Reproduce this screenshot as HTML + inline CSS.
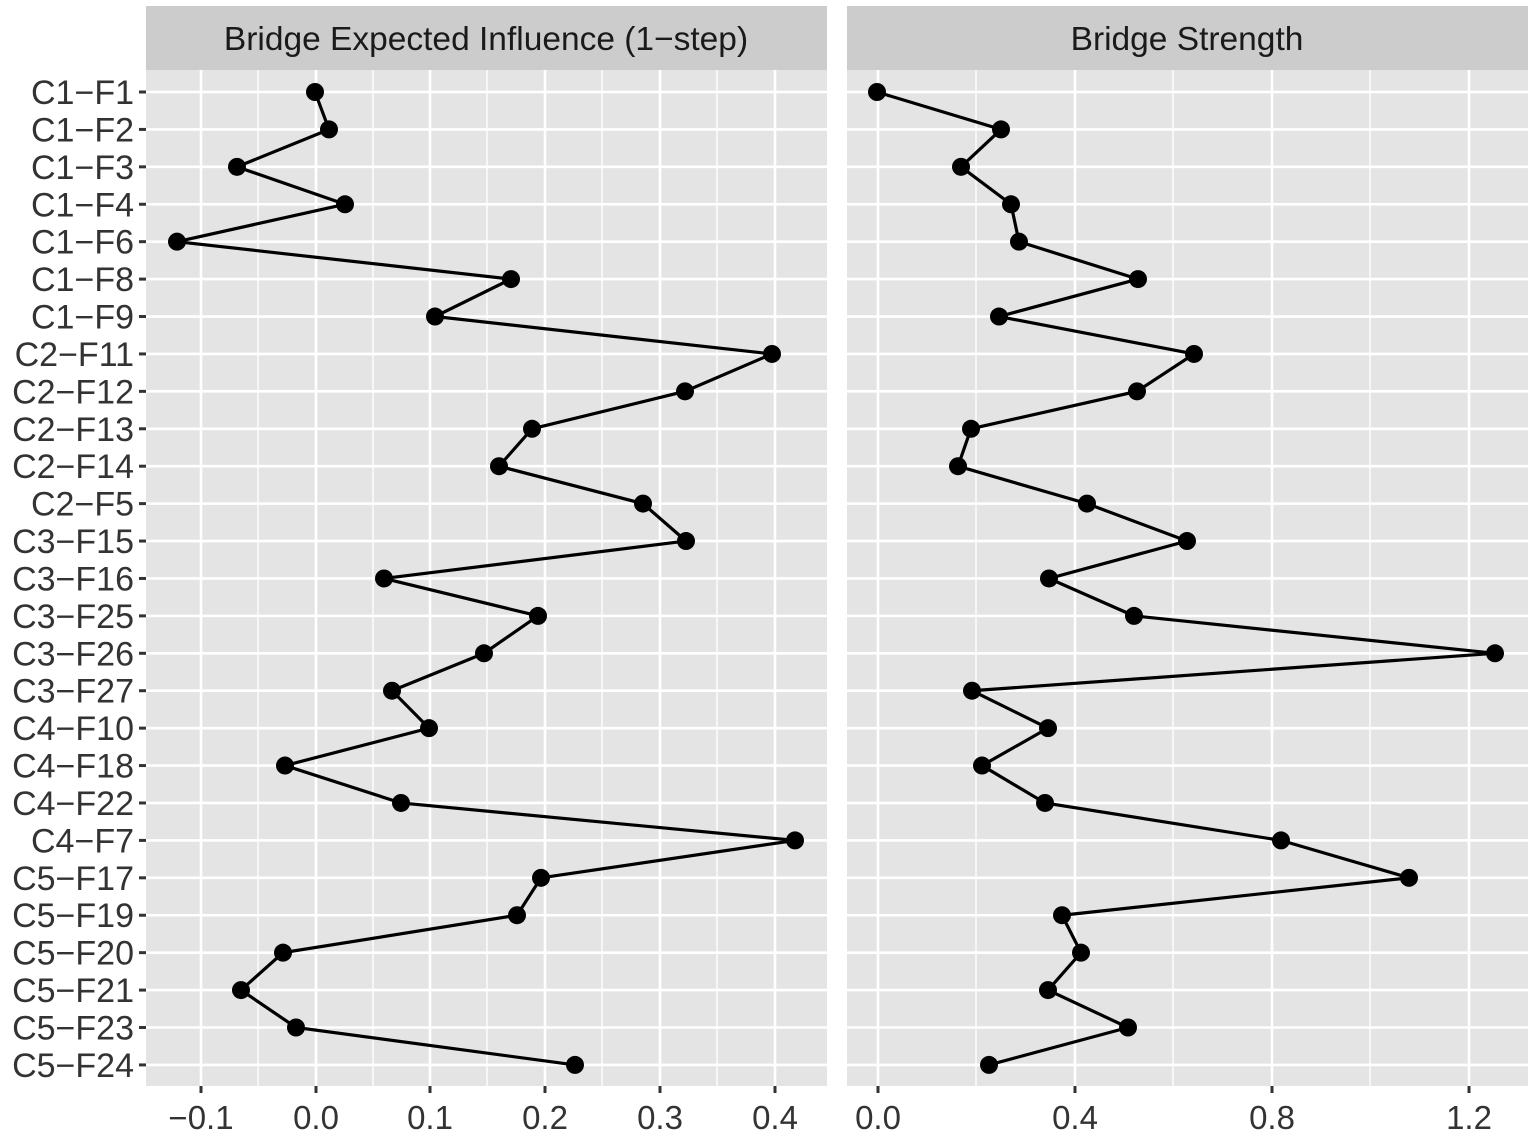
<!DOCTYPE html>
<html><head><meta charset="utf-8"><style>body{margin:0;background:#fff}svg{display:block}</style></head><body>
<svg width="1535" height="1137" xmlns="http://www.w3.org/2000/svg" font-family="Liberation Sans, sans-serif">
<rect width="1535" height="1137" fill="#fff"/>
<rect x="146" y="6" width="681" height="64" fill="#cccccc"/>
<rect x="847" y="6" width="681" height="64" fill="#cccccc"/>
<text x="486" y="50" font-size="33.5" text-anchor="middle" fill="#1a1a1a">Bridge Expected Influence (1−step)</text>
<text x="1187" y="50" font-size="33.5" text-anchor="middle" fill="#1a1a1a">Bridge Strength</text>
<rect x="146" y="70" width="681" height="1016" fill="#e4e4e4"/>
<rect x="847" y="70" width="681" height="1016" fill="#e4e4e4"/>
<g stroke="#fff" stroke-width="1.3">
<line x1="258" y1="70" x2="258" y2="1086"/><line x1="373" y1="70" x2="373" y2="1086"/><line x1="487" y1="70" x2="487" y2="1086"/><line x1="602" y1="70" x2="602" y2="1086"/><line x1="717" y1="70" x2="717" y2="1086"/>
<line x1="976" y1="70" x2="976" y2="1086"/><line x1="1173" y1="70" x2="1173" y2="1086"/><line x1="1370" y1="70" x2="1370" y2="1086"/>
</g>
<g stroke="#fff" stroke-width="2.6">
<line x1="201" y1="70" x2="201" y2="1086"/><line x1="316" y1="70" x2="316" y2="1086"/><line x1="430" y1="70" x2="430" y2="1086"/><line x1="545" y1="70" x2="545" y2="1086"/><line x1="660" y1="70" x2="660" y2="1086"/><line x1="775" y1="70" x2="775" y2="1086"/>
<line x1="878" y1="70" x2="878" y2="1086"/><line x1="1075" y1="70" x2="1075" y2="1086"/><line x1="1272" y1="70" x2="1272" y2="1086"/><line x1="1469" y1="70" x2="1469" y2="1086"/>
</g>
<g stroke="#fff" stroke-width="2.6" id="hg"></g>
<g stroke="#333" stroke-width="3" id="ticks"></g>
<g font-size="33" fill="#333" text-anchor="middle">
<text x="201" y="1129">−0.1</text><text x="316" y="1129">0.0</text><text x="430" y="1129">0.1</text><text x="545" y="1129">0.2</text><text x="660" y="1129">0.3</text><text x="775" y="1129">0.4</text>
<text x="878" y="1129">0.0</text><text x="1075" y="1129">0.4</text><text x="1272" y="1129">0.8</text><text x="1469" y="1129">1.2</text>
</g>
<g id="ylab" font-size="34" fill="#333" text-anchor="end"></g>
<g id="series"></g>
<script>
var labs=["C1−F1","C1−F2","C1−F3","C1−F4","C1−F6","C1−F8","C1−F9","C2−F11","C2−F12","C2−F13","C2−F14","C2−F5","C3−F15","C3−F16","C3−F25","C3−F26","C3−F27","C4−F10","C4−F18","C4−F22","C4−F7","C5−F17","C5−F19","C5−F20","C5−F21","C5−F23","C5−F24"];
var L=[315,329,237,345,177,511,435,772,685,532,499,643,686,384,538,484,392,429,285,401,795,541,517,283,241,296,575];
var R=[877,1001,961,1011,1019,1138,999,1194,1137,971,958,1087,1187,1049,1134,1495,972,1048,982,1045,1281,1409,1062,1081,1048,1128,989];
var ns="http://www.w3.org/2000/svg";
function el(t,a,p){var e=document.createElementNS(ns,t);for(var k in a)e.setAttribute(k,a[k]);p.appendChild(e);return e;}
var hg=document.getElementById("hg"),tk=document.getElementById("ticks"),yl=document.getElementById("ylab"),s=document.getElementById("series");
var xs=[201,316,430,545,660,775,878,1075,1272,1469];
xs.forEach(function(x){el("line",{x1:x,y1:1086,x2:x,y2:1093},tk);});
var pl="",pr="";
for(var i=0;i<27;i++){var y=92+i*37.42;
el("line",{x1:146,y1:y,x2:827,y2:y},hg);el("line",{x1:847,y1:y,x2:1528,y2:y},hg);
el("line",{x1:139,y1:y,x2:146,y2:y},tk);
var t=el("text",{x:134,y:y+12},yl);t.textContent=labs[i];
pl+=L[i]+","+y+" ";pr+=R[i]+","+y+" ";}
el("polyline",{points:pl,fill:"none",stroke:"#000","stroke-width":3.2},s);
el("polyline",{points:pr,fill:"none",stroke:"#000","stroke-width":3.2},s);
for(var i=0;i<27;i++){var y=92+i*37.42;el("circle",{cx:L[i],cy:y,r:9,fill:"#000"},s);el("circle",{cx:R[i],cy:y,r:9,fill:"#000"},s);}
</script>
</svg>
</body></html>
